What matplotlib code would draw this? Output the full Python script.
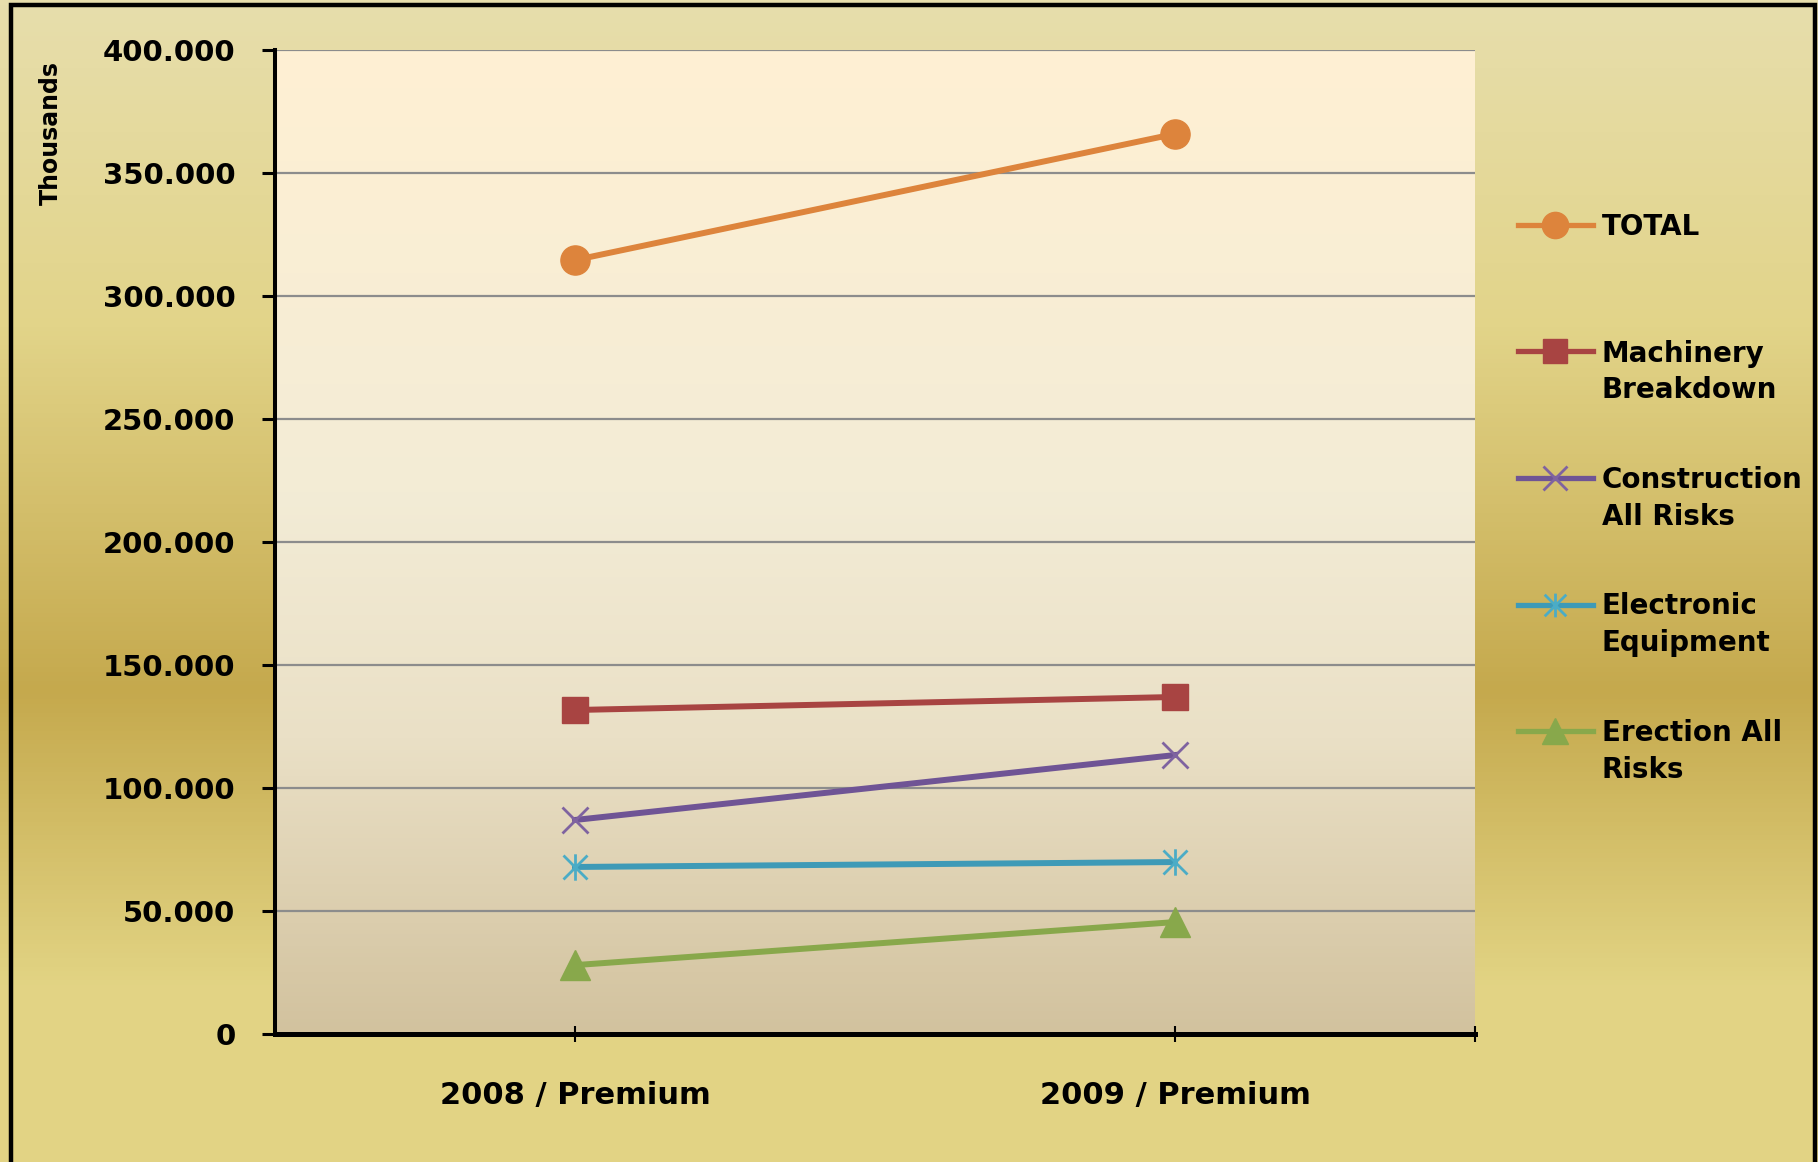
import numpy as np
import matplotlib
matplotlib.use("Agg")
import matplotlib.pyplot as plt
from matplotlib.colors import LinearSegmentedColormap
from matplotlib.lines import Line2D
from matplotlib.patches import Rectangle
from matplotlib.path import Path
from matplotlib.ticker import FuncFormatter

# data (values in thousands)
categories = ["2008 / Premium", "2009 / Premium"]
total = [314600, 365900]
machinery = [131700, 137000]
construction = [87000, 113400]
electronic = [67900, 69900]
erection = [28000, 45500]

series_names = ["TOTAL", "Machinery\nBreakdown", "Construction\nAll Risks",
                "Electronic\nEquipment", "Erection All\nRisks"]
series_values = [total, machinery, construction, electronic, erection]

y_ticks = [0, 50000, 100000, 150000, 200000, 250000, 300000, 350000, 400000]

# excel style "star" marker = x with a vertical bar
star = Path([(-1, -1), (1, 1), (-1, 1), (1, -1), (0, -1.1), (0, 1.1)],
            [Path.MOVETO, Path.LINETO, Path.MOVETO, Path.LINETO, Path.MOVETO, Path.LINETO])

styles = [
    dict(color="#DD843C", marker="o", ms=21, mfc="#DD843C", mec="#DD843C", mew=1),
    dict(color="#A84442", marker="s", ms=19, mfc="#A84442", mec="#A84442", mew=1),
    dict(color="#6F5495", marker="x", ms=19, mfc="none", mec="#7F63A0", mew=2),
    dict(color="#3E9AB7", marker=star, ms=19, mfc="none", mec="#4BACC6", mew=2),
    dict(color="#88A84B", marker="^", ms=21, mfc="#88A84B", mec="#88A84B", mew=1),
]

W, H = 1818, 1162
fig = plt.figure(figsize=(W / 100, H / 100), dpi=100)
fig.patch.set_facecolor("white")

# figure background gradient
bg = fig.add_axes([0, 0, 1, 1], zorder=-10)
bg_cmap = LinearSegmentedColormap.from_list(
    "bg", [(0.0, "#E7DEAC"), (0.28, "#E2D489"), (0.595, "#C5A94D"),
           (0.85, "#E2D484"), (1.0, "#E2D384")])
bg.imshow(np.linspace(0, 1, 256).reshape(-1, 1), cmap=bg_cmap, aspect="auto",
          extent=[0, 1, 0, 1])
bg.set_axis_off()

# outer frame
fig.add_artist(Rectangle((11 / W, -0.02), (1815 - 11) / W, 1.02 - 5 / H,
                         transform=fig.transFigure, fill=False,
                         edgecolor="black", linewidth=3.2))

ax = fig.add_axes([275 / W, 1 - 1034 / H, 1200 / W, 984 / H])
ax.set_facecolor("none")

pa_cmap = LinearSegmentedColormap.from_list(
    "pa", [(0.0, "#FFF0D3"), (0.45, "#F3ECD6"), (0.7, "#EAE0C6"), (1.0, "#D2C29E")])
ax.imshow(np.linspace(0, 1, 256).reshape(-1, 1), cmap=pa_cmap, aspect="auto",
          extent=[0, 1, 0, 1], transform=ax.transAxes, zorder=0)

x = np.arange(len(categories))
for vals, st in zip(series_values, styles):
    ax.plot(x, vals, lw=4.3, zorder=3, **st)

ax.set_xlim(-0.5, 1.5)
ax.set_ylim(0, 400000)
ax.set_yticks(y_ticks)
ax.yaxis.set_major_formatter(FuncFormatter(lambda v, p: f"{v:,.0f}".replace(",", ".")))
ax.grid(axis="y", color="#8C8C8C", lw=1.6, zorder=1)
ax.set_axisbelow(True)

ax.set_xticks(x)
ax.set_xticklabels(categories)
ax.set_xticks([1.5], minor=True)

for sp in ["top", "right"]:
    ax.spines[sp].set_visible(False)
ax.spines["left"].set_linewidth(2.9)
ax.spines["bottom"].set_linewidth(3.6)

ax.tick_params(axis="y", direction="out", length=9.5, width=2.2, pad=19,
               labelsize=21)
ax.tick_params(axis="x", which="both", direction="inout", length=12, width=1.5,
               pad=28, labelsize=22)
for lab in ax.get_xticklabels() + ax.get_yticklabels():
    lab.set_fontweight("bold")

ax.set_ylabel("Thousands", fontsize=17, fontweight="bold")
ax.yaxis.set_label_coords(-0.177, 0.916)

# legend on the right, handle aligned with first line of each label
for i, (name, st) in enumerate(zip(series_names, styles)):
    hy = 225 + 126.5 * i
    yf = 1 - hy / H
    leg_st = dict(st)
    leg_st["ms"] = st["ms"] * 0.9
    fig.add_artist(Line2D([1518 / W, 1555 / W, 1593 / W], [yf, yf, yf],
                          transform=fig.transFigure, lw=3.8, markevery=[1], **leg_st))
    fig.text(1602 / W, 1 - (hy - 12) / H, name, va="top", ha="left",
             fontsize=20, fontweight="bold", linespacing=1.4)

fig.savefig("out.png", dpi=100, facecolor=fig.get_facecolor())
